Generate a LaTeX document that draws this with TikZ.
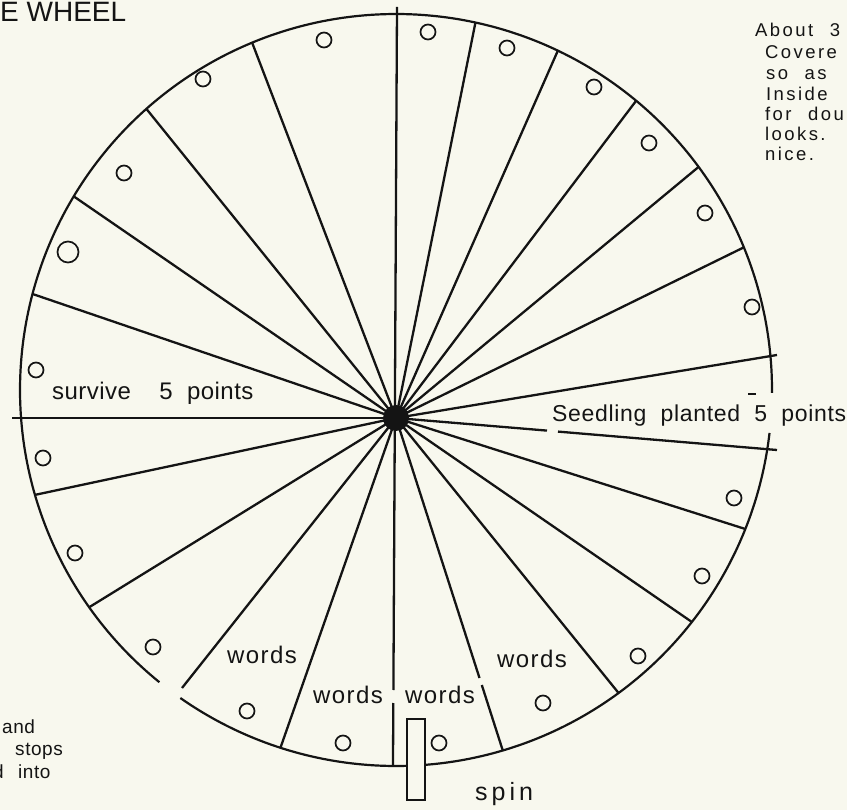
\documentclass[tikz,border=0pt]{standalone}
\usepackage{fontspec}
\setmainfont{Liberation Sans}
\newfontfamily\ftitle{Liberation Sans}
\newfontfamily\fnote[LetterSpace=13,WordSpace=2.2]{Liberation Sans}
\newfontfamily\fword[LetterSpace=6]{Liberation Sans}
\newfontfamily\fseed[LetterSpace=3,WordSpace=2]{Liberation Sans}
\newfontfamily\fsurv[LetterSpace=2,WordSpace=2]{Liberation Sans}
\newfontfamily\fspin[LetterSpace=16]{Liberation Sans}
\newfontfamily\fleft[LetterSpace=3,WordSpace=2]{Liberation Sans}
\definecolor{paper}{RGB}{248,248,238}
\definecolor{ink}{RGB}{20,20,20}
\begin{document}
\begin{tikzpicture}[x=1pt,y=-1pt,
  spoke/.style={line width=2.3pt, draw=ink},
  rim/.style={line width=2.2pt, draw=ink},
  hole/.style={line width=1.7pt, draw=ink},
  lbl/.style={anchor=base west, inner sep=0pt, text=ink},
  lble/.style={anchor=base east, inner sep=0pt, text=ink}]
\clip (0,0) rectangle (847,810);
\fill[paper] (0,0) rectangle (847,810);

% centres
\coordinate (hub) at (396,418);
% spoke ends on the rim (angles measured clockwise, y downwards)
\foreach \n/\a in {e2/282.2,e3/295.5,e4/309.7,e5/323.6,e6/337.7,
                   e9/21.7,e10/38.1,e11/53.7,e12/73.5,e13/107.9,
                   e15/144.7,e16/163.8,e18/194.8,e19/211.0,e20/228.4,e21/247.5}
  \coordinate (\n) at ({396+376*cos(\a)},{390+376*sin(\a)});
\coordinate (e7) at (777,355);
\coordinate (e8) at (777,450);
\coordinate (e14) at (182,688);
\coordinate (e17) at (12,418);
\coordinate (vt) at (397,7);
\coordinate (vg1) at (393.4,690);
\coordinate (vg2) at (393.3,703);
\coordinate (vb) at (393,765);
\coordinate (sg1) at (547,430.6);
\coordinate (sg2) at (558,431.6);
\coordinate (g12a) at (479.5,678);
\coordinate (g12b) at (481.8,685);
\coordinate (d1) at (748,394);
\coordinate (d2) at (756,394);

% rim with its two gaps
\draw[rim] plot[domain=6.56:125,samples=120,smooth] ({396+376*cos(\x)},{390+376*sin(\x)});
\draw[rim] plot[domain=129:360.46,samples=200,smooth] ({396+376*cos(\x)},{390+376*sin(\x)});

% spokes
\foreach \e in {e2,e3,e4,e5,e6,e7,e9,e10,e11,e13,e14,e15,e16,e17,e18,e19,e20,e21}
  \draw[spoke] (hub) -- (\e);
\draw[spoke] (vt) -- (vg1);
\draw[spoke] (vg2) -- (vb);
\draw[spoke] (hub) -- (sg1);
\draw[spoke] (sg2) -- (e8);
\draw[spoke] (hub) -- (g12a);
\draw[spoke] (g12b) -- (e12);
\draw[line width=1.5pt, draw=ink] (d1) -- (d2);

% hub
\fill[ink] (hub) circle[radius=13pt];

% holes
\foreach \p in {(324,40),(203,79),(124,173),(36,370),
                (428,32),(507,48),(594,87),(649,143),(705,213),(752,307),
                (43,458),(75,553),(153,647),(247,711),(343,743),
                (734,498),(702,576),(638,656),(543,703),(439,743)}
  \draw[hole] \p circle[radius=7.5pt];
\draw[hole] (68,252) circle[radius=10.5pt];

% spin button
\draw[line width=2.8pt, draw=ink, fill=paper] (407,719) rectangle (425,800);

% texts
\node[lbl, font=\ftitle\fontsize{28}{30}\selectfont] (title) at (0,22) {E WHEEL};
\begin{scope}[every node/.style={lbl, font=\fnote\fontsize{18.5}{20}\selectfont}]
\node (n1) at (755,37) {About 3};
\node (n2) at (765,59) {Covere};
\node (n3) at (766,80) {so as};
\node (n4) at (766,101) {Inside};
\node (n5) at (765,121) {for dou};
\node (n6) at (765,141) {looks.};
\node (n7) at (765,161) {nice.};
\end{scope}
\begin{scope}[every node/.style={lbl, font=\fleft\fontsize{19}{22}\selectfont}]
\node (b1) at (2,733) {and};
\node (b2) at (15,755) {stops};
\node[lble] (b3) at (4,778) {d};
\node (b4) at (18,778) {into};
\end{scope}
\node[lbl, font=\fsurv\fontsize{24}{26}\selectfont] (surv) at (52,400) {survive\hspace{14pt} 5 points};
\node[lbl, font=\fseed\fontsize{23}{25}\selectfont] (seed) at (552,422) {Seedling planted 5 points};
\begin{scope}[every node/.style={lbl, font=\fword\fontsize{24}{26}\selectfont}]
\node (w1) at (227,663) {words};
\node (w2) at (313,703) {words};
\node (w3) at (405,703) {words};
\node (w4) at (497,667) {words};
\end{scope}
\node[lbl, font=\fspin\fontsize{25}{27}\selectfont] (spin) at (475,800) {spin};
\end{tikzpicture}
\end{document}
